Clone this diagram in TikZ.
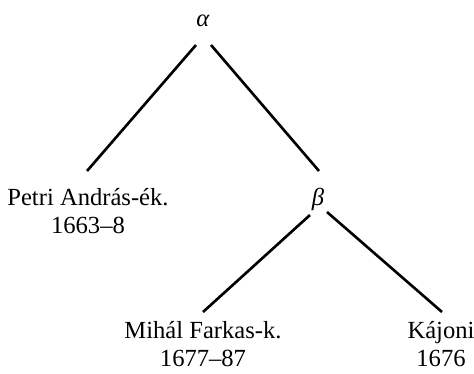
\documentclass[tikz,border=0pt]{standalone}
\usepackage{fontspec}
\setmainfont{Liberation Serif}
\usepackage{tikz}
\usetikzlibrary{positioning}

\begin{document}
\begin{tikzpicture}[x=0.02cm,y=0.02cm,
    label/.style={inner sep=0pt,align=center,font=\fontsize{14}{16}\selectfont},
    branch/.style={line width=1.5pt}]
  \useasboundingbox (0,0) rectangle (474,373);
  % stemma nodes
  \node[label] (alpha) at (203,352) {\textit{α}};
  \node[label] (beta) at (318,174) {\textit{β}};
  \node[label,anchor=north] (petri) at (88,185) {Petri András-ék.\\1663–8};
  \node[label,anchor=north] (mihal) at (203,52) {Mihál Farkas-k.\\1677–87};
  \node[label,anchor=north] (kajoni) at (441,52) {Kájoni\\1676};
  % branches
  \draw[branch] ([shift={(-7,-24)}]alpha.center) -- ([shift={(-1,17)}]petri.north);
  \draw[branch] ([shift={(8,-24)}]alpha.center) -- ([shift={(1,28)}]beta.center);
  \draw[branch] ([shift={(-8,-16)}]beta.center) -- ([shift={(0,9)}]mihal.north);
  \draw[branch] ([shift={(9,-13)}]beta.center) -- ([shift={(1,9)}]kajoni.north);
\end{tikzpicture}
\end{document}
